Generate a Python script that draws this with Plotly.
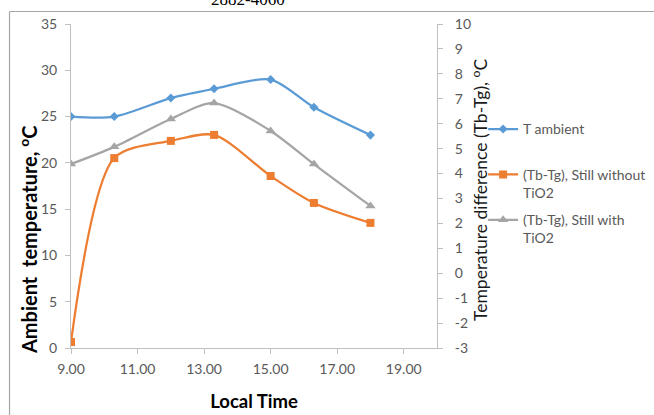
import plotly.graph_objects as go

# Data
local_time = [9.0, 10.3, 12.0, 13.3, 15.0, 16.3, 18.0]
t_ambient = [25, 25, 27, 28, 29, 26, 23]
dt_without_tio2 = [-2.76, 4.62, 5.31, 5.55, 3.90, 2.82, 2.02]
dt_with_tio2 = [4.38, 5.07, 6.19, 6.83, 5.71, 4.38, 2.70]

x_ticks = [9, 11, 13, 15, 17, 19]
x_ticklabels = ["9.00", "11.00", "13.00", "15.00", "17.00", "19.00"]
y2_ticks = [-3, -2, -1, 0, 1, 2, 3, 4, 5, 6, 7, 8, 9, 10]
y2_ticklabels = ["-3", "-2", "-1", "0", "1", "2", "3", "4", "5", "6", "7", "8", "9", "10"]

FONT = "Lato, 'Open Sans', sans-serif"
AXIS_COLOR = "#bfbfbf"
TICK_COLOR = "#595959"

fig = go.Figure()
fig.add_trace(go.Scatter(
    x=local_time, y=t_ambient, name="T ambient<br> ", legendgroup="a",
    mode="lines+markers", line=dict(color="#5b9bd5", width=2.25, shape="spline", smoothing=0.8),
    marker=dict(symbol="diamond", size=7, color="#5b9bd5"),
))
fig.add_trace(go.Scatter(
    x=local_time, y=dt_without_tio2, name="(Tb-Tg), Still without<br>TiO2", legendgroup="b",
    mode="lines+markers", line=dict(color="#ed7d31", width=2.25, shape="spline", smoothing=0.8),
    marker=dict(symbol="square", size=8, color="#ed7d31"), yaxis="y2",
))
fig.add_trace(go.Scatter(
    x=local_time, y=dt_with_tio2, name="(Tb-Tg), Still with<br>TiO2", legendgroup="c",
    mode="lines+markers", line=dict(color="#a5a5a5", width=2.25, shape="spline", smoothing=0.8),
    marker=dict(symbol="triangle-up", size=9, color="#a5a5a5"), yaxis="y2",
))

fig.update_layout(
    width=654, height=415,
    margin=dict(l=71, r=217, t=24, b=67, autoexpand=False),
    paper_bgcolor="white", plot_bgcolor="white",
    font=dict(family=FONT, size=13, color=TICK_COLOR),
    xaxis=dict(
        range=[9, 20], tickvals=x_ticks, ticktext=x_ticklabels, automargin=False,
        showgrid=False, zeroline=False, showline=True, linecolor=AXIS_COLOR, linewidth=1,
        ticks="outside", ticklen=5, tickcolor=AXIS_COLOR, ticklabelstandoff=3,
        tickfont=dict(size=14, color=TICK_COLOR),
        title=dict(text="<b>Local Time</b>", font=dict(size=18.5, color="#000000"), standoff=19),
    ),
    yaxis=dict(
        range=[0, 35], dtick=5, automargin=False,
        showgrid=False, zeroline=False, showline=True, linecolor=AXIS_COLOR, linewidth=1,
        ticks="outside", ticklen=5, tickcolor=AXIS_COLOR, ticklabelstandoff=5,
        tickfont=dict(size=14, color=TICK_COLOR),
    ),
    yaxis2=dict(
        range=[-3, 10], tickvals=y2_ticks, ticktext=y2_ticklabels, overlaying="y", side="right",
        automargin=False,
        showgrid=False, zeroline=False, showline=True, linecolor=AXIS_COLOR, linewidth=1,
        ticks="outside", ticklen=5, tickcolor=AXIS_COLOR, ticklabelstandoff=9,
        tickfont=dict(size=14, color=TICK_COLOR),
    ),
    legend=dict(
        x=1.126, y=0.724, xanchor="left", yanchor="top",
        font=dict(size=14, color=TICK_COLOR, family=FONT),
        valign="top", itemwidth=30, tracegroupgap=6,
        bgcolor="rgba(0,0,0,0)",
    ),
    showlegend=True,
)

# Axis titles (placed as in the reference, left one sits low)
fig.add_annotation(text="<b>Ambient  temperature, <sup>o</sup>C</b>", xref="paper", yref="paper",
                   x=-0.1175, y=0.3364, xanchor="center", yanchor="middle", textangle=-90,
                   showarrow=False, font=dict(family=FONT, size=20, color="#000000"))
fig.add_annotation(text="Temperature difference (Tb-Tg), <sup>o</sup>C", xref="paper", yref="paper",
                   x=1.1175, y=0.4877, xanchor="center", yanchor="middle", textangle=-90,
                   showarrow=False, font=dict(family=FONT, size=17.5, color="#1a1a1a"))

# Chart-area frame (top and left edges visible in the reference)
fig.add_shape(type="line", xref="paper", yref="paper", x0=-0.168, x1=1.6, y0=1.0386, y1=1.0386,
              line=dict(color="#a6a6a6", width=1.2))
fig.add_shape(type="line", xref="paper", yref="paper", x0=-0.168, x1=-0.168, y0=1.0386, y1=-0.3,
              line=dict(color="#a6a6a6", width=1.2))

# Page header text cut off at top
fig.add_annotation(text="2882-4060", xref="paper", yref="paper", x=0.484, y=1.041,
                   xanchor="center", yanchor="bottom", showarrow=False,
                   font=dict(family="'Liberation Serif', serif", size=17, color="#000000"))

fig.write_html("out.html")
